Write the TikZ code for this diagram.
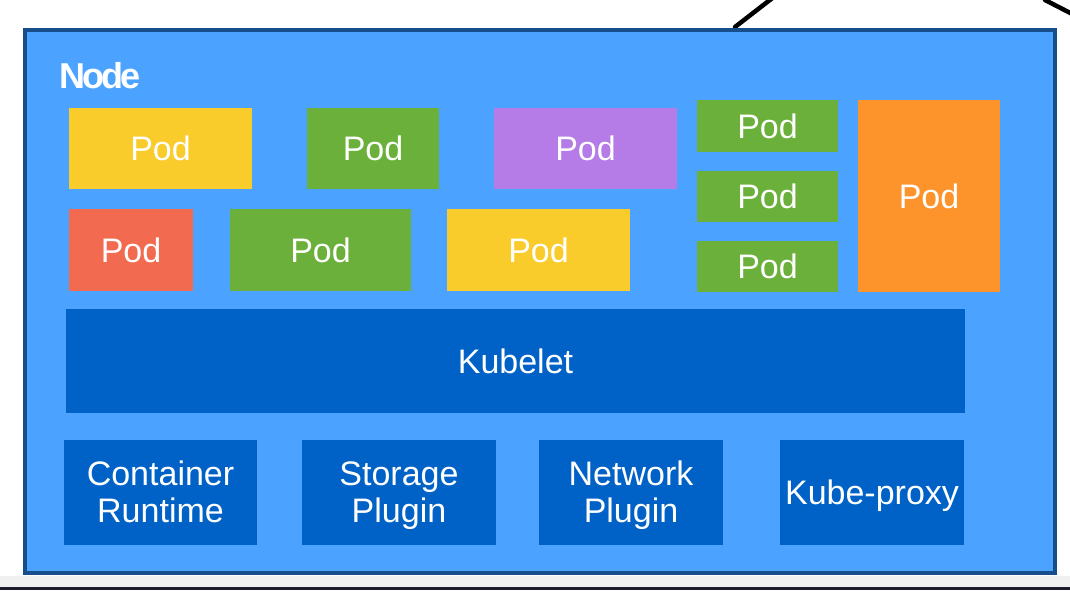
\documentclass[tikz,border=0pt]{standalone}
\usepackage{fontspec}
\setmainfont{Liberation Sans}
\begin{document}
\begin{tikzpicture}[x=1pt,y=-1pt,
  box/.style={rectangle, inner sep=0pt, outer sep=0pt, text=white,
    font=\fontsize{34}{37}\selectfont, align=center},
  podbox/.style={box, text height=24pt, text depth=0pt},
  darkbox/.style={box, fill=dkblue},
  twoline/.style={darkbox, text height=61pt, text depth=1pt},
  oneline/.style={darkbox, text height=24pt, text depth=0pt},
  outerbox/.style={rectangle, inner sep=0pt, fill=ltblue, draw=bordblue, line width=4pt},
  wire/.style={black, line width=4.5pt, line cap=round}
]
\definecolor{ltblue}{RGB}{75,163,255}
\definecolor{dkblue}{RGB}{0,98,198}
\definecolor{bordblue}{RGB}{22,78,140}
\definecolor{podyellow}{RGB}{249,203,43}
\definecolor{podgreen}{RGB}{107,176,58}
\definecolor{podpurple}{RGB}{181,123,230}
\definecolor{podcoral}{RGB}{242,107,80}
\definecolor{podorange}{RGB}{253,148,43}
\definecolor{bggray}{RGB}{240,240,240}
\definecolor{bgdark}{RGB}{28,28,42}

\useasboundingbox (0,0) rectangle (1070,590);
\fill[white] (0,0) rectangle (1070,590);
\fill[bggray] (0,576) rectangle (1070,587);
\fill[bgdark] (0,587) rectangle (1070,590);

\begin{scope}
\clip (0,0) rectangle (1070,590);
\coordinate (w1a) at (735,27);
\coordinate (w1b) at (775,-4);
\coordinate (w2a) at (1045,0);
\coordinate (w2b) at (1080,18);
\draw[wire] (w1a) -- (w1b);
\draw[wire] (w2a) -- (w2b);
\end{scope}

\node[outerbox, minimum width=1030pt, minimum height=543pt] (nodebox) at (540,301.5) {};
\node[anchor=base west, inner sep=0pt, text=white,
  font=\fontsize{36}{36}\selectfont\bfseries] (nodelabel) at (59,88) {\addfontfeature{LetterSpace=-8}Node};

% pods
\node[podbox, fill=podyellow, minimum width=183pt, minimum height=81pt] (p1) at (160.5,148.5) {Pod};
\node[podbox, fill=podgreen,  minimum width=132pt, minimum height=81pt] (p2) at (373,148.5) {Pod};
\node[podbox, fill=podpurple, minimum width=183pt, minimum height=81pt] (p3) at (585.5,148.5) {Pod};
\node[podbox, fill=podcoral,  minimum width=124pt, minimum height=82pt] (p4) at (131,250) {Pod};
\node[podbox, fill=podgreen,  minimum width=181pt, minimum height=82pt] (p5) at (320.5,250) {Pod};
\node[podbox, fill=podyellow, minimum width=183pt, minimum height=82pt] (p6) at (538.5,250) {Pod};
\node[podbox, fill=podgreen,  minimum width=141pt, minimum height=52pt] (p7) at (767.5,126) {Pod};
\node[podbox, fill=podgreen,  minimum width=141pt, minimum height=51pt] (p8) at (767.5,196.5) {Pod};
\node[podbox, fill=podgreen,  minimum width=141pt, minimum height=51pt] (p9) at (767.5,266.5) {Pod};
\node[podbox, fill=podorange, minimum width=142pt, minimum height=192pt] (p10) at (929,196) {Pod};

% kubelet
\node[oneline, minimum width=899pt, minimum height=104pt] (kubelet) at (515.5,361) {Kubelet};

% bottom components
\node[twoline, minimum width=193pt, minimum height=105pt] (cr) at (160.5,492.5) {Container\\Runtime};
\node[twoline, minimum width=194pt, minimum height=105pt] (sp) at (399,492.5) {Storage\\Plugin};
\node[twoline, minimum width=184pt, minimum height=105pt] (np) at (631,492.5) {Network\\Plugin};
\node[oneline, minimum width=184pt, minimum height=105pt] (kp) at (872,492.5) {Kube-proxy};
\end{tikzpicture}
\end{document}
